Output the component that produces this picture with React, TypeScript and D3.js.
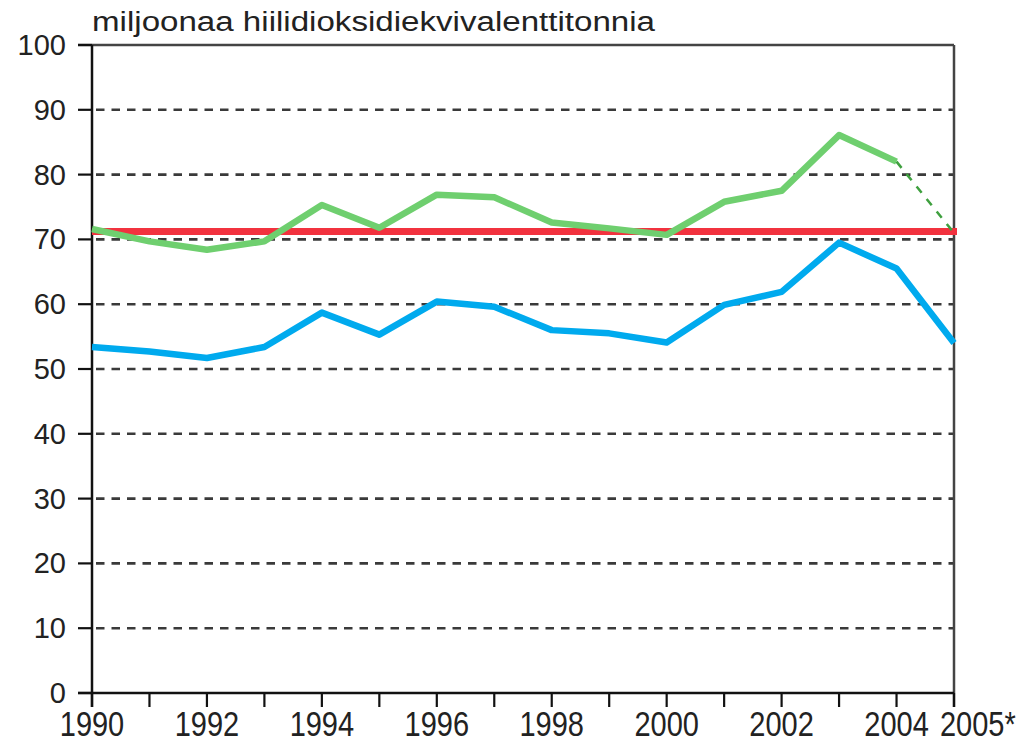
import * as d3 from 'd3';

// vuodet, 2005 ennakkotieto
const years = [1990, 1991, 1992, 1993, 1994, 1995, 1996, 1997, 1998, 1999, 2000, 2001, 2002, 2003, 2004, 2005];
const yearLabels = ['1990', '1992', '1994', '1996', '1998', '2000', '2002', '2004', '2005*'];
const labelYears = [1990, 1992, 1994, 1996, 1998, 2000, 2002, 2004, 2005];

// kokonaispäästöt (vihreä) ja hiilidioksidi (sininen)
const totalEmissions = [71.6, 69.7, 68.4, 69.7, 75.3, 71.8, 76.9, 76.5, 72.6, 71.7, 70.7, 75.8, 77.5, 86.1, 82.0, 71.0];
const co2Emissions = [53.4, 52.7, 51.7, 53.4, 58.7, 55.3, 60.4, 59.6, 56.0, 55.5, 54.1, 59.9, 61.9, 69.5, 65.5, 54.0];
const kyotoTarget = 71.2;

const yTicks = [0, 10, 20, 30, 40, 50, 60, 70, 80, 90, 100];
const unitLabel = 'miljoonaa hiilidioksidiekvivalenttitonnia';

export default function App() {
  const width = 1032;
  const height = 744;
  const x = d3.scaleLinear().domain([1990, 2005]).range([92, 954]);
  const y = d3.scaleLinear().domain([0, 100]).range([693, 45]);

  const line = d3
    .line<[number, number]>()
    .x((d) => x(d[0]))
    .y((d) => y(d[1]));

  const green = years.map((yr, i) => [yr, totalEmissions[i]] as [number, number]);
  const blue = years.map((yr, i) => [yr, co2Emissions[i]] as [number, number]);
  const greenSolid = green.slice(0, green.length - 1);
  const greenDashed = green.slice(green.length - 2);

  const font = 'Liberation Sans, Arial, sans-serif';

  return (
    <svg
      width={width}
      height={height}
      style={{ position: 'absolute', left: 0, top: 0, background: '#fff' }}
    >
      <text x={92} y={31} fontFamily={font} fontSize={27} fill="#222" textLength={563} lengthAdjust="spacingAndGlyphs">
        {unitLabel}
      </text>

      {/* gridlines */}
      {yTicks
        .filter((t) => t > 0 && t < 100)
        .map((t) => (
          <line
            key={'g' + t}
            x1={x(1990) + 4}
            x2={x(2005)}
            y1={y(t)}
            y2={y(t)}
            stroke="#3a3a3a"
            strokeWidth={2.6}
            strokeDasharray="8.5 7"
          />
        ))}

      {/* frame */}
      <line x1={78} x2={x(2005)} y1={y(100)} y2={y(100)} stroke="#444" strokeWidth={2.5} />
      <line x1={x(2005)} x2={x(2005)} y1={y(100)} y2={y(0) + 14} stroke="#444" strokeWidth={2.5} />

      {/* y axis */}
      <line x1={x(1990)} x2={x(1990)} y1={y(100)} y2={y(0) + 14} stroke="#111" strokeWidth={2.5} />
      {yTicks.map((t) => (
        <g key={'y' + t}>
          <line x1={78} x2={x(1990)} y1={y(t)} y2={y(t)} stroke="#111" strokeWidth={2.2} />
          <text x={66} y={y(t) + 10} textAnchor="end" fontFamily={font} fontSize={29} fill="#222">
            {t}
          </text>
        </g>
      ))}

      {/* x axis */}
      <line x1={78} x2={x(2005)} y1={y(0)} y2={y(0)} stroke="#111" strokeWidth={2.5} />
      {years.map((yr) => (
        <line key={'t' + yr} x1={x(yr)} x2={x(yr)} y1={y(0)} y2={y(0) + 14} stroke="#111" strokeWidth={2.2} />
      ))}
      {labelYears.map((yr, i) => {
        const last = i === labelYears.length - 1;
        return (
          <text
            key={'xl' + yr}
            transform={`translate(${last ? x(yr) - 14 : x(yr)}, 736) scale(1, 1.2)`}
            textAnchor={last ? 'start' : 'middle'}
            fontFamily={font}
            fontSize={29}
            fill="#222"
          >
            {yearLabels[i]}
          </text>
        );
      })}

      {/* Kyoto target */}
      <line x1={x(1990)} x2={x(2005) + 3} y1={y(kyotoTarget)} y2={y(kyotoTarget)} stroke="#f2323f" strokeWidth={7} />

      {/* series */}
      <path d={line(greenSolid) ?? ''} fill="none" stroke="#6fcf6f" strokeWidth={6.5} strokeLinejoin="round" />
      <path d={line(greenDashed) ?? ''} fill="none" stroke="#3fa03f" strokeWidth={2.5} strokeDasharray="8 8" />
      <path d={line(blue) ?? ''} fill="none" stroke="#00aaee" strokeWidth={6.5} strokeLinejoin="round" />
    </svg>
  );
}
